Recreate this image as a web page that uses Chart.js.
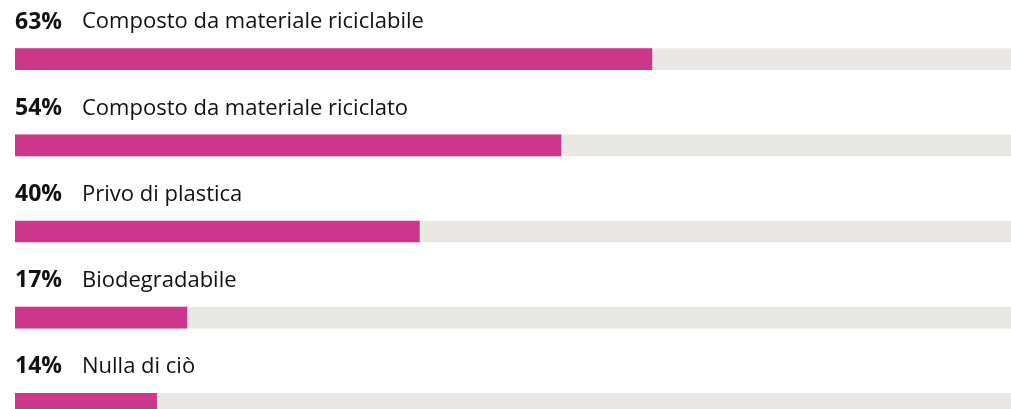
<!DOCTYPE html>
<html>
<head>
<meta charset="utf-8">
<script src="https://cdn.jsdelivr.net/npm/chart.js@4/dist/chart.umd.min.js"></script>
<style>
  html, body { margin: 0; padding: 0; background: #fff; overflow: hidden; }
  #wrap { position: relative; width: 1026px; height: 452px; }
</style>
</head>
<body>
<div id="wrap"><canvas id="chart"></canvas></div>
<script>
// Dati
const categorie = ['Composto da materiale riciclabile', 'Composto da materiale riciclato', 'Privo di plastica', 'Biodegradabile', 'Nulla di ciò'];
const percentuali = [63, 54, 40, 17, 14];
const totale = [100, 100, 100, 100, 100];

// Etichette sopra le barre
const etichette = {
    id: 'etichette',
    afterDatasetsDraw(chart) {
        const ctx = chart.ctx;
        const y = chart.scales.y;
        const left = chart.chartArea.left;
        ctx.save();
        ctx.textBaseline = 'middle';
        ctx.fillStyle = '#111';
        categorie.forEach(function (nome, i) {
            const yy = y.getPixelForValue(i) - 37;
            ctx.font = 'bold 23px "Open Sans"';
            ctx.fillText(percentuali[i] + '%', left, yy);
            ctx.font = '22px "Open Sans"';
            ctx.fillText(nome, left + 67, yy);
        });
        ctx.restore();
    }
};

const ctx = document.getElementById('chart').getContext('2d');
new Chart(ctx, {
    type: 'bar',
    data: {
        labels: categorie,
        datasets: [{
            label: 'Percentuale',
            data: percentuali,
            backgroundColor: '#cc368b',
            barThickness: 21
        }, {
            label: 'Totale',
            data: totale,
            backgroundColor: '#eae8e4',
            barThickness: 21
        }]
    },
    options: {
        indexAxis: 'y',
        responsive: true,
        maintainAspectRatio: false,
        animation: false,
        layout: { padding: { left: 15, right: 0, top: 16, bottom: 5 } },
        plugins: {
            legend: { display: false },
            tooltip: { enabled: false }
        },
        scales: {
            x: { display: false, min: 0, max: 100, stacked: false },
            y: { display: false, stacked: true }
        }
    },
    plugins: [etichette]
});
</script>
</body>
</html>
